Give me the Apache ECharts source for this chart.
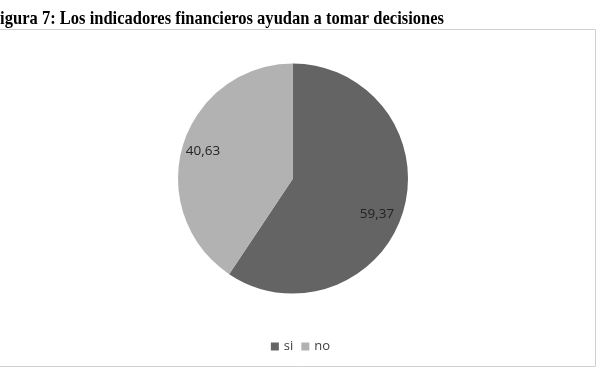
<!DOCTYPE html>
<html>
<head>
<meta charset="utf-8">
<script src="https://cdn.jsdelivr.net/npm/echarts@6/dist/echarts.min.js"></script>
<style>
html, body { margin: 0; padding: 0; background: #fff; }
#main { width: 601px; height: 370px; }
</style>
</head>
<body>
<div id="main"></div>
<script>
// datos del grafico
var categorias = ['si', 'no'];
var valores = [59.37, 40.63];
var colores = ['#646464', '#b2b2b2'];

var chart = echarts.init(document.getElementById('main'));

var datos = categorias.map(function (c, i) {
	return { name: c, value: valores[i], itemStyle: { color: colores[i] } };
});

var option = {
	backgroundColor: '#fff',
	animation: false,
	graphic: [{
		type: 'rect',
		shape: { x: -5, y: 29.5, width: 600.5, height: 337 },
		style: { fill: '#fff', stroke: '#d0d0d0', lineWidth: 1 },
		z: 0
	}, {
		type: 'text',
		x: -10,
		y: 10,
		scaleX: 0.87,
		style: {
			text: 'Figura 7: Los indicadores financieros ayudan a tomar decisiones',
			font: 'bold 19px "Liberation Serif", "Times New Roman", serif',
			fill: '#000'
		},
		z: 10
	}],
	legend: {
		data: categorias,
		bottom: 12,
		left: 'center',
		itemWidth: 8,
		itemHeight: 8,
		itemGap: 8,
		icon: 'rect',
		textStyle: { fontFamily: 'Open Sans', fontSize: 13, color: '#404040' }
	},
	series: [{
		type: 'pie',
		center: [293, 178.5],
		radius: [0, 115],
		startAngle: 90,
		clockwise: true,
		label: { show: false },
		labelLine: { show: false },
		itemStyle: { borderWidth: 0 },
		emphasis: { disabled: true },
		data: datos
	}, {
		// serie invisible solo para las etiquetas
		type: 'pie',
		center: [293, 178.5],
		radius: [0, 182],
		startAngle: 90,
		clockwise: true,
		silent: true,
		z: 5,
		label: {
			show: true,
			position: 'inside',
			fontFamily: 'Open Sans',
			fontSize: 13.5,
			color: '#222',
			formatter: function (p) { return p.value.toFixed(2).replace('.', ','); }
		},
		labelLine: { show: false },
		itemStyle: { color: 'rgba(0,0,0,0)', borderWidth: 0 },
		emphasis: { disabled: true },
		data: categorias.map(function (c, i) {
			return { name: c, value: valores[i], label: i === 0 ? { offset: [-6, 8] } : {} };
		})
	}]
};
chart.setOption(option);
</script>
</body>
</html>
